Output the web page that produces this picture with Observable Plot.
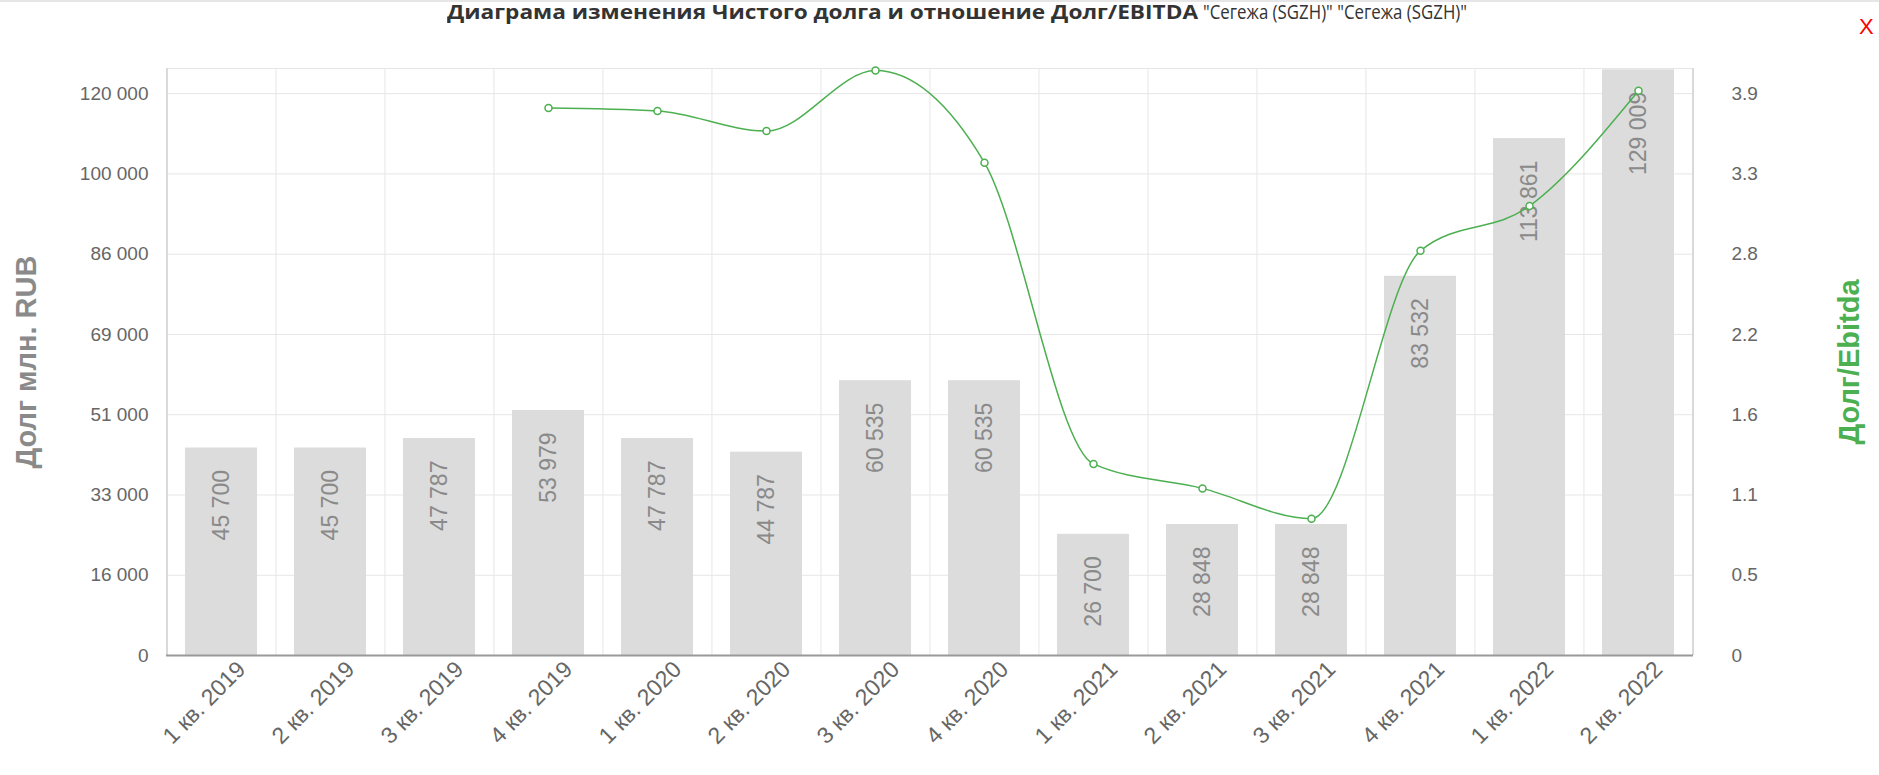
<!DOCTYPE html>
<html><head><meta charset="utf-8">
<script src="https://cdn.jsdelivr.net/npm/d3@7"></script>
<script src="https://cdn.jsdelivr.net/npm/@observablehq/plot@0.6"></script>
<style>
html,body{margin:0;padding:0;background:#fff;}
body{width:1879px;height:775px;position:relative;overflow:hidden;font-family:"Liberation Sans",Arial,sans-serif;}
#topline{position:absolute;left:0;top:0;width:1879px;height:2px;background:#e6e6e6;}
.tpart{position:absolute;top:0px;font-size:20px;line-height:24px;color:#333;white-space:nowrap;transform-origin:0 50%;}
#tb{font-family:"Open Sans",sans-serif;font-weight:700;}
#tn{font-family:"Open Sans",sans-serif;font-weight:400;}
#close{position:absolute;left:1859px;top:14px;color:#ff0000;font-size:22px;font-family:"Liberation Sans",Arial,sans-serif;}
#chart{position:absolute;left:0;top:0;}
</style></head><body>
<div id="chart"></div>
<div id="topline"></div>
<div id="tb" class="tpart">Диаграма изменения Чистого долга и отношение Долг/EBITDA</div>
<div id="tn" class="tpart">"Сегежа (SGZH)" "Сегежа (SGZH)"</div>
<div id="close">X</div>
<script>
const quarters = ["1 кв. 2019","2 кв. 2019","3 кв. 2019","4 кв. 2019","1 кв. 2020","2 кв. 2020","3 кв. 2020","4 кв. 2020","1 кв. 2021","2 кв. 2021","3 кв. 2021","4 кв. 2021","1 кв. 2022","2 кв. 2022"];
const debt = [45700,45700,47787,53979,47787,44787,60535,60535,26700,28848,28848,83532,113861,129009];
const debtEbitda = [null,null,null,3.80,3.78,3.64,4.06,3.42,1.33,1.16,0.95,2.81,3.12,3.92];
const leftTickLabels = ["0","16 000","33 000","51 000","69 000","86 000","100 000","120 000"];
const rightTickLabels = ["0","0.5","1.1","1.6","2.2","2.8","3.3","3.9"];
const leftStep = 17680;
const rightStep = 3.9/7;
const yMax = 129300;

const k = leftStep/rightStep;
const W = 1879, H = 775, mL = 166, mR = 186, mT = 68, mB = 120;
const step = (W - mL - mR) / quarters.length;
const tickVals = leftTickLabels.map((_, i) => i * leftStep);
const fmt = d3.formatLocale({decimal: ".", thousands: " ", grouping: [3], currency: ["", ""]}).format(",");

const bars = quarters.map((q, i) => ({q, v: debt[i]}));
const ratioPts = quarters.map((q, i) => ({q, r: debtEbitda[i]})).filter(d => d.r != null);
const green = "#4caf50";

const plot = Plot.plot({
  width: W, height: H,
  marginLeft: mL, marginRight: mR, marginTop: mT, marginBottom: mB,
  style: {fontFamily: '"Liberation Sans", Arial, sans-serif', background: "transparent"},
  x: {domain: quarters, paddingInner: 0.34, paddingOuter: 0.17},
  y: {domain: [0, yMax]},
  marks: [
    Plot.ruleY(tickVals, {stroke: "#e6e6e6", strokeWidth: 1}),
    Plot.ruleY([yMax], {stroke: "#e6e6e6", strokeWidth: 1}),
    Plot.ruleX(quarters.slice(1), {dx: -step/2, stroke: "#e6e6e6", strokeWidth: 1}),
    Plot.ruleX([quarters[0]], {dx: -step/2, stroke: "#d9d9d9", strokeWidth: 2}),
    Plot.ruleX([quarters[quarters.length-1]], {dx: step/2, stroke: "#d9d9d9", strokeWidth: 2}),
    Plot.barY(bars, {x: "q", y: "v", fill: "#dcdcdc"}),
    Plot.ruleY([0], {stroke: "#999", strokeWidth: 2}),
    Plot.text(bars, {x: "q", y: "v", text: d => fmt(d.v), rotate: -90, textAnchor: "end", dy: 22, fill: "#8a8a8a", fontSize: 23}),
    Plot.line(ratioPts, {x: "q", y: d => d.r * k, stroke: green, strokeWidth: 1.5, curve: "monotone-x"}),
    Plot.dot(ratioPts, {x: "q", y: d => d.r * k, r: 3.5, stroke: green, strokeWidth: 1.5, fill: "white"}),
    Plot.axisY({ticks: tickVals, tickFormat: (d, i) => leftTickLabels[i], tickSize: 0, tickPadding: 18, fontSize: 19, fill: "#666", label: null}),
    Plot.axisY({anchor: "right", ticks: tickVals, tickFormat: (d, i) => rightTickLabels[i], tickSize: 0, tickPadding: 38, fontSize: 19, fill: "#666", textAnchor: "start", label: null}),
    Plot.axisX({tickRotate: -45, tickSize: 0, tickPadding: 10, dx: 20, fontSize: 23, fill: "#666", label: null}),
    Plot.text(["Долг млн. RUB"], {frameAnchor: "left", textAnchor: "middle", dx: -140, rotate: -90, fontSize: 29, fontWeight: "bold", fill: "#8a8a8a"}),
    Plot.text(["Долг/Ebitda"], {frameAnchor: "right", textAnchor: "middle", dx: 156, rotate: -90, fontSize: 29, fontWeight: "bold", fill: green})
  ]
});
document.getElementById("chart").appendChild(plot);

function fitPart(id, left, target) {
  const el = document.getElementById(id);
  el.style.left = left + "px";
  const w = el.getBoundingClientRect().width;
  el.style.transform = `scaleX(${target / w})`;
}
fitPart("tb", 447, 751);
fitPart("tn", 1203, 264);
</script>
</body></html>
